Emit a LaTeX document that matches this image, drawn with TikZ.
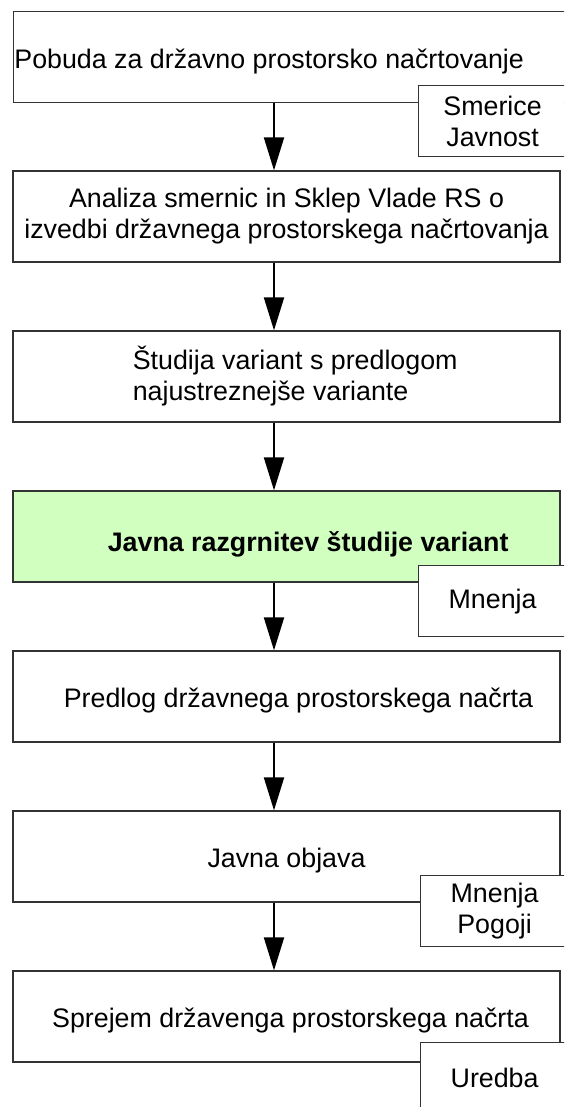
\documentclass[tikz,border=0pt]{standalone}
\usepackage{fontspec}
\setmainfont{Liberation Sans}
\usetikzlibrary{arrows.meta,positioning}

\definecolor{razgreen}{RGB}{208,255,192}
\newcommand{\stagefont}{\fontsize{13.4}{15.5}\selectfont}

\begin{document}
\begin{tikzpicture}[x=0.5pt, y=-0.5pt, node distance=80pt,
    stage/.style={draw=black!80, line width=0.6pt, minimum width=273.5pt, minimum height=45.5pt, inner sep=0pt},
    side/.style={draw=black!80, line width=0.6pt, fill=white, minimum width=74pt, minimum height=35.5pt,
                 anchor=north west, align=center, inner sep=0pt, font=\stagefont},
    txt/.style={inner sep=0pt, font=\stagefont},
    flow/.style={line width=1pt, -{Triangle[length=16.5pt, width=10pt]}}]
        \useasboundingbox (0,0) rectangle (564,1107);
        \clip (0,0) rectangle (564,1107);
        \coordinate (ax) at (274,0);
        % main stages
        \node[stage, minimum width=283.5pt, anchor=north west] (b1) at (13,11) {};
        \node[stage] (b2) at (286.5,216.5) {};
        \node[stage] (b3) [below of=b2] {};
        \node[stage, fill=razgreen] (b4) [below of=b3] {};
        \node[stage] (b5) [below of=b4] {};
        \node[stage] (b6) [below of=b5] {};
        \node[stage] (b7) [below of=b6] {};
        % texts
        \node[txt, yshift=-2pt, right=0.5pt of b1.west] (t1) {Pobuda za državno prostorsko načrtovanje};
        \node[txt, align=center] (t2) at (b2) {Analiza smernic in Sklep Vlade RS o\\izvedbi državnega prostorskega načrtovanja};
        \node[txt, align=left, right=60pt of b3.west] (t3) {Študija variant s predlogom\\najustreznejše variante};
        \node[txt, font=\stagefont\bfseries, yshift=-4pt, right=47.5pt of b4.west] (t4) {Javna razgrnitev študije variant};
        \node[txt, yshift=-2pt] (t5) at ([xshift=6pt]b5.center) {Predlog državnega prostorskega načrta};
        \node[txt, yshift=-2pt] (t6) at (b6) {Javna objava};
        \node[txt, yshift=-2pt] (t7) at ([xshift=2pt]b7.center) {Sprejem državenga prostorskega načrta};
        % inputs on the side
        \node[side] (s1) at (418,85) {Smerice\\Javnost};
        \node[side] (s4) at (418,565) {Mnenja};
        \node[side] (s6) at (420,875) {Mnenja\\Pogoji};
        \node[side] (s7) at (420,1042) {Uredba};
        % flow
        \draw[flow] (b1.south -| ax) -- (b2.north -| ax);
        \draw[flow] (b2.south -| ax) -- (b3.north -| ax);
        \draw[flow] (b3.south -| ax) -- (b4.north -| ax);
        \draw[flow] (b4.south -| ax) -- (b5.north -| ax);
        \draw[flow] (b5.south -| ax) -- (b6.north -| ax);
        \draw[flow] (b6.south -| ax) -- (b7.north -| ax);
    \end{tikzpicture}
\end{document}
